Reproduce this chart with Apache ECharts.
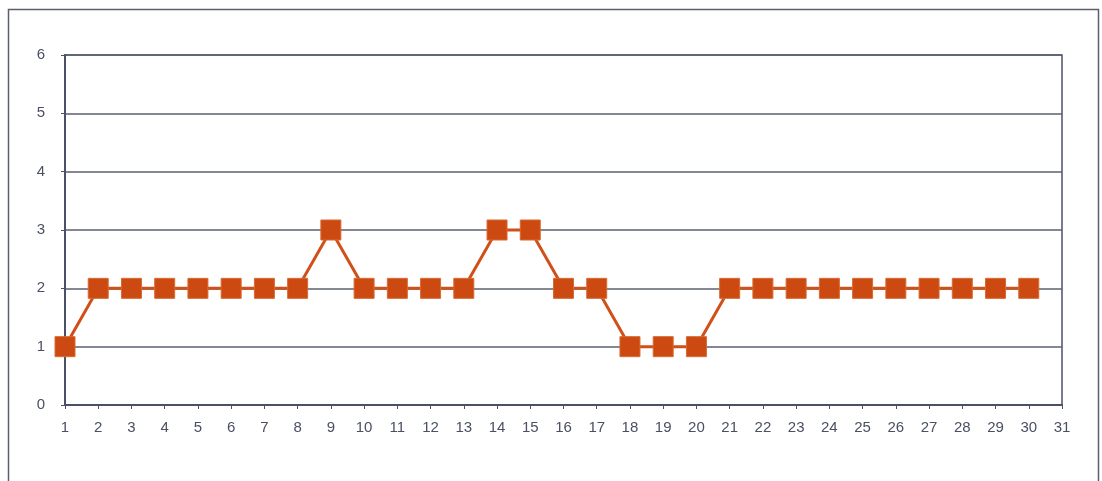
<!DOCTYPE html>
<html><head><meta charset="utf-8">
<script src="https://cdn.jsdelivr.net/npm/echarts@6/dist/echarts.min.js"></script>
<style>html,body{margin:0;padding:0;background:#fff}#c{width:1102px;height:481px}</style>
</head><body><div id="c"></div>
<script>
const categories = ['1','2','3','4','5','6','7','8','9','10','11','12','13','14','15','16','17','18','19','20','21','22','23','24','25','26','27','28','29','30','31'];
const values = [1,2,2,2,2,2,2,2,3,2,2,2,2,3,3,2,2,1,1,1,2,2,2,2,2,2,2,2,2,2];
const yTicks = [0,1,2,3,4,5,6];

const chart = echarts.init(document.getElementById('c'), null, {renderer:'canvas'});
chart.setOption({
  animation:false,
  backgroundColor:'#fff',
  graphic:[{type:'rect',shape:{x:8.5,y:9.5,width:1090,height:480},style:{fill:'none',stroke:'#5a5f70',lineWidth:1.5},silent:true}],
  grid:{left:65,right:40,top:55,bottom:76,show:true,borderColor:'#4a5068',borderWidth:1.5,backgroundColor:'transparent'},
  xAxis:{type:'category',data:categories,boundaryGap:false,
    axisLine:{lineStyle:{color:'#4a5068',width:2}},
    axisTick:{show:true,length:4,lineStyle:{color:'#4a5068'}},
    axisLabel:{color:'#4a5062',fontFamily:'Liberation Sans',fontSize:15,margin:15,interval:0},
    splitLine:{show:false}},
  yAxis:{type:'value',min:yTicks[0],max:yTicks[yTicks.length-1],interval:1,
    axisLine:{show:true,lineStyle:{color:'#4a5068',width:2}},
    axisTick:{show:true,length:4,lineStyle:{color:'#4a5068'}},
    axisLabel:{color:'#4a5062',fontFamily:'Liberation Sans',fontSize:15,margin:20},
    splitLine:{lineStyle:{color:'#5a6070',width:1.5}}},
  series:[{type:'line',data:values,symbol:'rect',symbolSize:20,
    lineStyle:{color:'#d0501a',width:3},
    itemStyle:{color:'#cc4a12',borderColor:'#d86a30',borderWidth:1}}]
});
</script></body></html>
